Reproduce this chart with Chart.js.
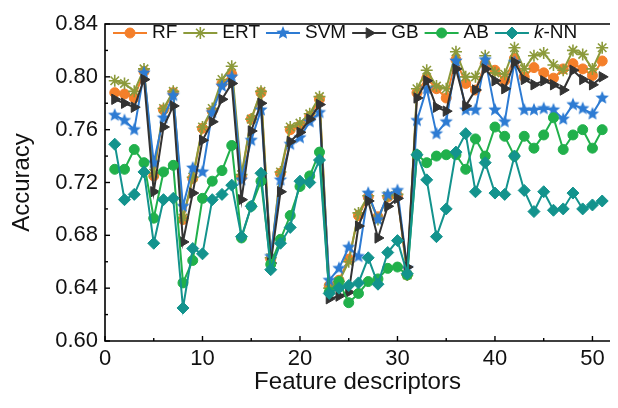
<!DOCTYPE html>
<html>
<head>
<meta charset="utf-8">
<script src="https://cdn.jsdelivr.net/npm/chart.js@4.4.1/dist/chart.umd.min.js"></script>
<style>
html, body { margin: 0; padding: 0; background: #fff; }
canvas { display: block; }
</style>
</head>
<body>
<canvas id="grafico" width="618" height="408"></canvas>
<script>
// Datos
const descriptores = [1,2,3,4,5,6,7,8,9,10,11,12,13,14,15,16,17,18,19,20,21,22,23,24,25,26,27,28,29,30,31,32,33,34,35,36,37,38,39,40,41,42,43,44,45,46,47,48,49,50,51];
const rf  = [0.788,0.787,0.784,0.804,0.725,0.775,0.788,0.692,0.723,0.761,0.774,0.795,0.802,0.724,0.768,0.788,0.662,0.727,0.760,0.763,0.770,0.783,0.642,0.646,0.662,0.695,0.709,0.694,0.709,0.710,0.650,0.788,0.799,0.791,0.784,0.813,0.795,0.790,0.810,0.805,0.797,0.814,0.800,0.807,0.803,0.799,0.806,0.810,0.806,0.801,0.812];
const ert = [0.797,0.795,0.789,0.806,0.727,0.776,0.789,0.693,0.724,0.762,0.776,0.798,0.808,0.726,0.768,0.789,0.663,0.728,0.762,0.765,0.772,0.785,0.640,0.645,0.660,0.697,0.710,0.692,0.710,0.711,0.650,0.791,0.805,0.793,0.791,0.819,0.800,0.800,0.816,0.803,0.802,0.822,0.806,0.816,0.818,0.809,0.805,0.820,0.817,0.806,0.822];
const svm = [0.771,0.767,0.760,0.803,0.735,0.769,0.786,0.702,0.731,0.728,0.773,0.793,0.800,0.722,0.752,0.775,0.664,0.722,0.749,0.754,0.766,0.773,0.646,0.655,0.671,0.664,0.712,0.692,0.711,0.714,0.655,0.767,0.791,0.757,0.766,0.812,0.775,0.775,0.813,0.775,0.766,0.811,0.775,0.775,0.776,0.775,0.768,0.779,0.776,0.772,0.784];
const gb  = [0.783,0.780,0.777,0.798,0.713,0.762,0.778,0.675,0.712,0.752,0.766,0.783,0.795,0.707,0.759,0.780,0.659,0.713,0.751,0.758,0.768,0.779,0.632,0.634,0.637,0.687,0.706,0.678,0.702,0.708,0.656,0.784,0.797,0.777,0.774,0.806,0.778,0.790,0.806,0.797,0.791,0.811,0.798,0.794,0.797,0.794,0.790,0.805,0.798,0.794,0.800];
const ab  = [0.730,0.730,0.745,0.735,0.693,0.728,0.733,0.644,0.661,0.708,0.721,0.729,0.748,0.678,0.702,0.721,0.658,0.677,0.695,0.717,0.725,0.743,0.637,0.645,0.629,0.636,0.645,0.647,0.655,0.656,0.650,0.741,0.735,0.740,0.741,0.741,0.730,0.753,0.740,0.762,0.755,0.740,0.755,0.746,0.756,0.769,0.745,0.756,0.760,0.746,0.760];
const knn = [0.749,0.707,0.711,0.728,0.674,0.707,0.708,0.625,0.670,0.666,0.707,0.711,0.718,0.679,0.702,0.727,0.654,0.674,0.686,0.721,0.720,0.737,0.636,0.640,0.642,0.644,0.663,0.643,0.667,0.676,0.651,0.741,0.722,0.679,0.700,0.743,0.757,0.713,0.735,0.712,0.711,0.740,0.714,0.698,0.713,0.699,0.700,0.712,0.700,0.703,0.706];
const ticksX = [0,10,20,30,40,50];
const ticksY = [0.60,0.64,0.68,0.72,0.76,0.80,0.84];

const fuente = 'Liberation Sans, Arial, Helvetica, sans-serif';

// estrella de 5 puntas para SVM
function crearEstrella(color, r) {
    const c = document.createElement('canvas');
    const s = Math.ceil(r * 2) + 2;
    c.width = s; c.height = s;
    const g = c.getContext('2d');
    g.beginPath();
    for (let k = 0; k < 10; k++) {
        const rad = k % 2 === 0 ? r : r * 0.45;
        const a = -Math.PI / 2 + k * Math.PI / 5;
        const px = s / 2 + rad * Math.cos(a), py = s / 2 + rad * Math.sin(a);
        if (k === 0) g.moveTo(px, py); else g.lineTo(px, py);
    }
    g.closePath();
    g.fillStyle = color;
    g.fill();
    return c;
}

const puntos = serie => descriptores.map((x, i) => ({ x: x, y: serie[i] }));

function serie(label, valores, color, estilo, radio, extra) {
    return Object.assign({
        label: label,
        data: puntos(valores),
        borderColor: color,
        backgroundColor: color,
        pointBackgroundColor: color,
        pointBorderColor: color,
        pointBorderWidth: 1,
        pointStyle: estilo,
        pointRadius: radio,
        borderWidth: 2,
        tension: 0
    }, extra || {});
}

const datasets = [
    serie('RF', rf, '#f47f2a', 'circle', 5, { order: 6 }),
    serie('ERT', ert, '#8c9a3b', 'star', 6, { order: 5, pointBorderWidth: 1.6 }),
    serie('SVM', svm, '#2d7bd3', crearEstrella('#2d7bd3', 7), 7, { order: 4 }),
    serie('GB', gb, '#333333', 'triangle', 6, { order: 3, pointRotation: 90 }),
    serie('AB', ab, '#21b04b', 'circle', 5, { order: 2 }),
    serie('k-NN', knn, '#13938d', 'rectRot', 6, { order: 1 })
];

// marco, marcas internas y leyenda
const marcoYLeyenda = {
    id: 'marcoYLeyenda',
    afterDraw(chart) {
        const ctx = chart.ctx;
        const { left, top, bottom, right } = chart.chartArea;
        const xs = chart.scales.x, ys = chart.scales.y;
        ctx.save();
        ctx.strokeStyle = '#000';
        ctx.lineWidth = 1.6;
        ctx.beginPath();
        ctx.moveTo(right, top);
        ctx.lineTo(left, top);
        ctx.lineTo(left, bottom);
        ctx.lineTo(right, bottom);
        ctx.stroke();

        ctx.lineWidth = 1.4;
        ticksX.forEach((v, i) => {
            const px = xs.getPixelForValue(v);
            ctx.beginPath(); ctx.moveTo(px, bottom); ctx.lineTo(px, bottom - 5); ctx.stroke();
            const m = v + (ticksX[1] - ticksX[0]) / 2;
            const pm = xs.getPixelForValue(m);
            if (pm < right) { ctx.beginPath(); ctx.moveTo(pm, bottom); ctx.lineTo(pm, bottom - 3); ctx.stroke(); }
        });
        ticksY.forEach((v, i) => {
            const py = ys.getPixelForValue(v);
            ctx.beginPath(); ctx.moveTo(left, py); ctx.lineTo(left + 5, py); ctx.stroke();
            if (i < ticksY.length - 1) {
                const pm = ys.getPixelForValue((v + ticksY[i + 1]) / 2);
                ctx.beginPath(); ctx.moveTo(left, pm); ctx.lineTo(left + 3, pm); ctx.stroke();
            }
        });

        // leyenda
        let x = 113;
        const yL = 33;
        ctx.textBaseline = 'middle';
        ctx.textAlign = 'left';
        chart.data.datasets.forEach(ds => {
            ctx.strokeStyle = ds.borderColor;
            ctx.lineWidth = 2;
            ctx.beginPath(); ctx.moveTo(x, yL); ctx.lineTo(x + 34, yL); ctx.stroke();
            ctx.fillStyle = ds.pointBackgroundColor;
            ctx.strokeStyle = ds.pointBorderColor;
            ctx.lineWidth = ds.pointBorderWidth;
            Chart.helpers.drawPoint(ctx, {
                pointStyle: ds.pointStyle,
                radius: ds.pointRadius,
                rotation: ds.pointRotation || 0,
                borderWidth: ds.pointBorderWidth
            }, x + 17, yL);
            x += 39;
            ctx.fillStyle = '#111';
            if (ds.label === 'k-NN') {
                ctx.font = 'italic 19px ' + fuente;
                ctx.fillText('k', x, yL);
                x += ctx.measureText('k').width;
                ctx.font = '19px ' + fuente;
                ctx.fillText('-NN', x, yL);
                x += ctx.measureText('-NN').width + 6;
            } else {
                ctx.font = '19px ' + fuente;
                ctx.fillText(ds.label, x, yL);
                x += ctx.measureText(ds.label).width + 6;
            }
        });
        ctx.restore();
    }
};

new Chart(document.getElementById('grafico'), {
    type: 'line',
    data: { datasets: datasets },
    options: {
        responsive: false,
        animation: false,
        events: [],
        layout: { padding: { top: 24, right: 0, left: 0, bottom: 0 } },
        plugins: {
            legend: { display: false },
            tooltip: { enabled: false }
        },
        scales: {
            x: {
                type: 'linear',
                min: 0,
                max: 51.8,
                afterBuildTicks: s => { s.ticks = ticksX.map(v => ({ value: v })); },
                afterFit: s => { s.height = 67; },
                grid: { display: false, drawTicks: false },
                border: { display: false },
                ticks: {
                    padding: 5,
                    color: '#111',
                    font: { size: 22, family: fuente },
                    callback: v => String(v)
                },
                title: {
                    display: true,
                    text: 'Feature descriptors',
                    color: '#111',
                    font: { size: 24, family: fuente },
                    padding: { top: 0, bottom: 11 }
                }
            },
            y: {
                min: 0.60,
                max: 0.84,
                afterBuildTicks: s => { s.ticks = ticksY.map(v => ({ value: v })); },
                afterFit: s => { s.width = 105; },
                grid: { display: false, drawTicks: false },
                border: { display: false },
                ticks: {
                    padding: 7,
                    color: '#111',
                    font: { size: 22, family: fuente },
                    callback: v => v.toFixed(2)
                },
                title: {
                    display: true,
                    text: 'Accuracy',
                    color: '#111',
                    font: { size: 24, family: fuente },
                    padding: { top: 8, bottom: 0 }
                }
            }
        }
    },
    plugins: [marcoYLeyenda]
});
</script>
</body>
</html>
